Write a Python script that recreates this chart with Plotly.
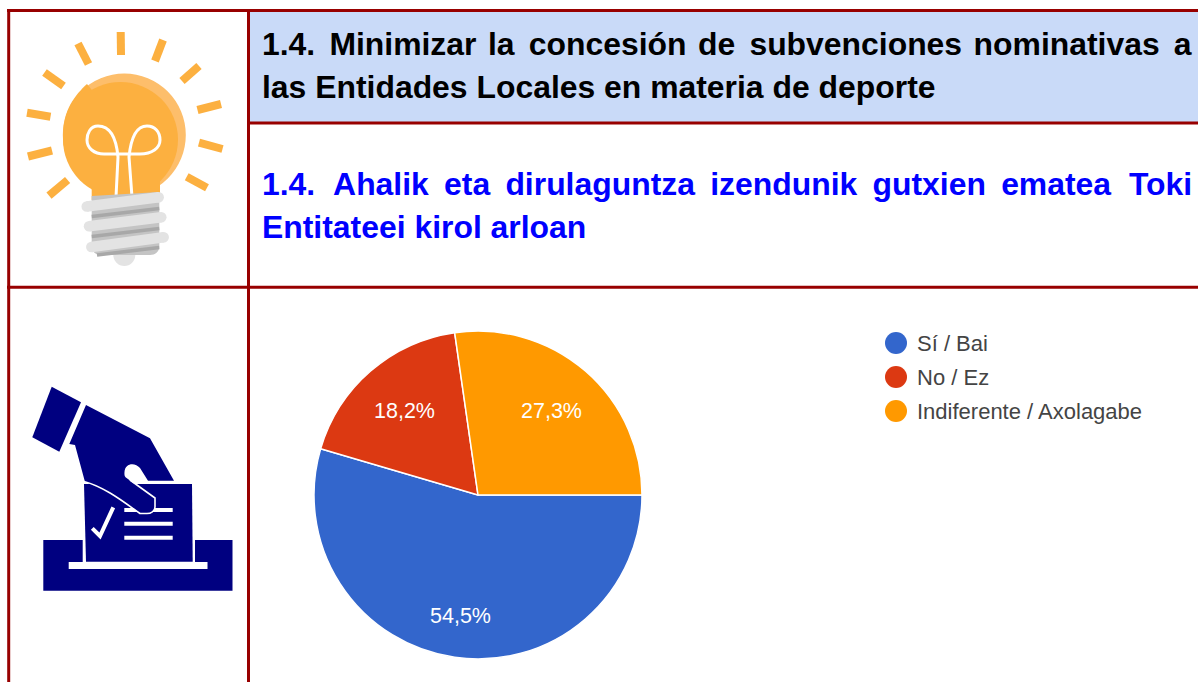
import math
import plotly.graph_objects as go

# ---- data ----
categories = ["Sí / Bai", "No / Ez", "Indiferente / Axolagabe"]
values = [6, 2, 3]
colors = ["#3366cc", "#dc3912", "#ff9900"]
title_es = ["1.4. Minimizar la concesión de subvenciones nominativas a",
            "las Entidades Locales en materia de deporte"]
title_eu = ["1.4. Ahalik eta dirulaguntza izendunik gutxien ematea Toki",
            "Entitateei kirol arloan"]

W, H = 1198, 682
RED = "#980000"
NAVY = "#000080"
ORANGE = "#fcb040"
HAIR, THIN = "\u200a", "\u2009"
shapes = []


def path(d, fill=None, line=None, lw=0):
    shapes.append(dict(type="path", path=d, xref="x", yref="y", layer="above",
                       fillcolor=fill or "rgba(0,0,0,0)",
                       line=dict(color=line or "rgba(0,0,0,0)", width=lw)))


def poly(pts, fill=None, line=None, lw=0, close=True):
    d = "M " + " L ".join(f"{x:.1f},{y:.1f}" for x, y in pts) + (" Z" if close else "")
    path(d, fill, line, lw)


def rect(x0, y0, x1, y1, fill):
    shapes.append(dict(type="rect", x0=x0, y0=y0, x1=x1, y1=y1, xref="x", yref="y",
                       layer="above", fillcolor=fill, line=dict(width=0)))


def seg(x0, y0, x1, y1, color, w):
    shapes.append(dict(type="line", x0=x0, y0=y0, x1=x1, y1=y1, xref="x", yref="y",
                       layer="above", line=dict(color=color, width=w)))


def circle(cx, cy, r, fill):
    shapes.append(dict(type="circle", x0=cx - r, y0=cy - r, x1=cx + r, y1=cy + r,
                       xref="x", yref="y", layer="above", fillcolor=fill, line=dict(width=0)))


def capsule(x0, y0, x1, y1, w, fill):
    seg(x0, y0, x1, y1, fill, w)
    circle(x0, y0, w / 2, fill)
    circle(x1, y1, w / 2, fill)


def z(*pts, oy=0):
    """zoom-crop coordinates to page pixels"""
    return [(x / 3, y / 3 + oy) for x, y in pts]


def justified(text, pads):
    """Widen the word gaps of a justified line with extra thin spaces."""
    words = text.split(" ")
    out = words[0]
    for i, word in enumerate(words[1:]):
        out += " " + (pads[i] if i < len(pads) else "") + word
    return out


# ---- table ----
rect(249, 12, W, 122, "#c9daf8")
seg(8.7, 10.5, 8.7, H, RED, 3)
seg(248.5, 10.5, 248.5, H, RED, 3)
seg(7, 10.5, W, 10.5, RED, 3)
seg(248, 123, W, 123, RED, 3)
seg(7, 287.3, W, 287.3, RED, 3)

# ---- light bulb ----
rays = [(120.7, 32, 121, 55), (78, 43.5, 88.5, 64), (163, 40, 155, 61), (44.5, 72.5, 63.5, 86),
        (199, 66, 182, 81), (27, 112.7, 50.5, 116.7), (197.5, 110, 221, 104), (28, 156.5, 52, 150.5),
        (199, 142.7, 222.5, 149), (49, 195.6, 67.6, 180), (186.7, 176.7, 207, 187.7)]
for r in rays:
    seg(*r, ORANGE, 8)
circle(124.3, 135, 61.5, "#fdbe6b")
# neck + shadowed globe
path("M 63,135 C 63,150 68,163 78,170 C 86,176 91.7,180 91.7,190 L 91.7,200 L 160,200 L 160,182 "
     "C 160,175 165,172 170,168 L 150,120 L 90,110 Z", ORANGE)
circle(120.5, 139.5, 57.5, ORANGE)
path("M 63,135 C 63,110 75,95 87,84 L 100,100 L 80,150 Z", ORANGE)
# filament
path("M 116,197 L 118,157 C 116,135 108,126 98,126 C 90,126 87,134 87,140 C 87,148 94,154 104,154 "
     "L 140,154 C 152,154 160,148 160,140 C 160,132 155,126 147,126 C 137,126 131,137 129,157 L 132,197",
     None, "#ffffff", 3)
# screw base
circle(124.3, 255, 11, "#e3e3e3")
path("M 91.7,196 L 159.3,192 L 159.3,246 C 159.3,252 155,255 150,255 L 101,255 C 96,255 91.7,252 91.7,246 Z",
     "#c4c4c4")
seg(91.7, 216.5, 159.3, 208.5, "#a8a8a8", 3.5)
seg(91.7, 236.5, 159.3, 228.5, "#a8a8a8", 3.5)
seg(97, 255, 159.3, 247.5, "#a8a8a8", 3.5)
capsule(86.7, 206.5, 158.7, 197.3, 10.5, "#e3e3e3")
capsule(89, 226.3, 161.3, 217.3, 10.5, "#e3e3e3")
capsule(91.3, 247, 163.7, 237.3, 10.5, "#e3e3e3")

# ---- ballot box icon ----
OY = 370
rect(43.3, 540, 232.5, 590.7, NAVY)
rect(82.7, 540, 195, 562, "#ffffff")
poly(z((252, 342), (576, 342), (578, 575), (258, 575), oy=OY), NAVY)
rect(68.7, 562, 207.5, 569, "#ffffff")
poly(z((155, 50), (243, 97), (178, 245), (97, 202), oy=OY), NAVY)
# paper lines and tick
for y in (420, 461, 503):
    seg(124.3, OY + y / 3, 172.7, OY + y / 3, "#ffffff", 4)
poly(z((277, 475), (300, 498), (340, 412), oy=OY), None, "#ffffff", 4, close=False)
# hand, outlined in white against the paper
path("M 86,405 L 150,438.3 L 174,480.7 L 148,480.7 L 140,468 C 135,462 125,463 124.5,472 "
     "C 124,478 126,477 130,480.7 L 155,498 L 155,507 C 154,512 150,513.5 147,513.5 L 140,513.5 "
     "C 130,505 110,490 85,482 L 75,445 L 69.3,444 Z", NAVY)
path("M 84,481.5 C 105,487 125,503 140,513.5 L 147,513.5 C 151,513.5 154.5,511 155,507 L 155,498 L 130,480",
     None, "#ffffff", 1.6)

# ---- legend ----
annotations = []
for i, (name, col) in enumerate(zip(categories, colors)):
    y = 343 + 34 * i
    circle(896, y, 11, col)
    annotations.append(dict(x=916, y=y, text=name, xref="x", yref="y", xanchor="left", yanchor="middle",
                            showarrow=False, borderpad=0,
                            font=dict(family="Liberation Sans", size=22, color="#444444")))

# ---- headings ----
H2, H1 = HAIR * 2, HAIR
heading_lines = [(justified(title_es[0], [H2, H1, H2, H1, H2, H1, H2]), 44, "#000000"),
                 (title_es[1], 87, "#000000"),
                 (justified(title_eu[0], [THIN + HAIR, THIN, THIN, THIN, THIN, THIN, THIN + HAIR]), 184, "#0000ff"),
                 (title_eu[1], 227, "#0000ff")]
for text, y, col in heading_lines:
    annotations.append(dict(x=261, y=y, text=f"<b>{text}</b>", xref="x", yref="y", xanchor="left",
                            yanchor="middle", showarrow=False, borderpad=0,
                            font=dict(family="Liberation Sans", size=31.9, color=col)))

# ---- pie and its percentage labels ----
CX, CY, R = 478, 495, 164
label_radius = [0.745, 0.68, 0.68]
total = sum(values)
start = 0.0  # degrees clockwise from east, where the first slice begins
for v, rf in zip(values, label_radius):
    sweep = 360 * v / total
    a = math.radians(start + sweep / 2)
    start += sweep
    annotations.append(dict(x=CX + rf * R * math.cos(a), y=CY + rf * R * math.sin(a),
                            text=f"{100 * v / total:.1f}%".replace(".", ","),
                            xref="x", yref="y", showarrow=False, borderpad=0,
                            font=dict(family="Liberation Sans", size=21.5, color="#ffffff")))

fig = go.Figure()
fig.add_trace(go.Scatter(x=[0, W], y=[0, H], mode="none", hoverinfo="skip", showlegend=False))
fig.add_trace(go.Pie(labels=categories, values=values, sort=False, direction="clockwise", rotation=90,
                     marker=dict(colors=colors, line=dict(color="#ffffff", width=1.5)),
                     textinfo="none",
                     domain=dict(x=[(CX - R) / W, (CX + R) / W], y=[1 - (CY + R) / H, 1 - (CY - R) / H]),
                     showlegend=False))
fig.update_layout(width=W, height=H, autosize=False, margin=dict(l=0, r=0, t=0, b=0),
                  paper_bgcolor="#ffffff", plot_bgcolor="#ffffff", separators=",.",
                  xaxis=dict(range=[0, W], visible=False, fixedrange=True),
                  yaxis=dict(range=[H, 0], visible=False, fixedrange=True),
                  shapes=shapes, annotations=annotations)
fig.write_html("out.html", config=dict(displayModeBar=False),
               post_script="document.body.style.margin='0';document.body.style.overflow='hidden';")
